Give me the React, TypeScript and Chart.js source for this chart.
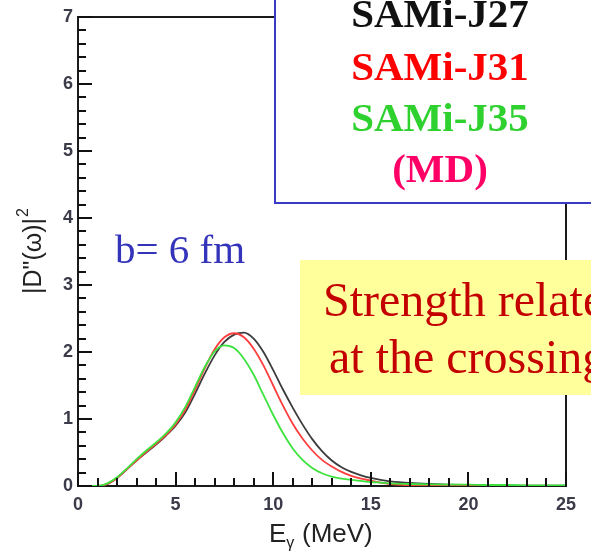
import React, { useEffect, useRef } from "react";
import { Chart, registerables } from "chart.js";

Chart.register(...registerables);

// Photon energy E_gamma (MeV)
const energies = [0, 0.5, 1, 1.5, 2, 2.5, 3, 3.5, 4, 4.5, 5, 5.5, 6, 6.5, 7, 7.5, 8, 8.5, 9, 9.5, 10, 10.5, 11, 11.5, 12, 12.5, 13, 13.5, 14, 14.5, 15, 15.5, 16, 17, 18, 19, 20, 21, 22, 23, 24, 25];

// |D''(omega)|^2 for each interaction
const samiJ27 = [0, 0, 0, 0.03, 0.12, 0.25, 0.38, 0.5, 0.62, 0.75, 0.9, 1.1, 1.38, 1.68, 1.95, 2.15, 2.26, 2.29, 2.2, 2.0, 1.73, 1.44, 1.17, 0.92, 0.7, 0.52, 0.38, 0.28, 0.21, 0.16, 0.12, 0.09, 0.07, 0.045, 0.03, 0.02, 0.015, 0.01, 0.008, 0.006, 0.005, 0.004];
const samiJ31 = [0, 0, 0, 0.03, 0.12, 0.25, 0.38, 0.51, 0.63, 0.76, 0.92, 1.14, 1.44, 1.76, 2.04, 2.22, 2.28, 2.22, 2.05, 1.8, 1.5, 1.2, 0.93, 0.71, 0.53, 0.39, 0.29, 0.21, 0.15, 0.11, 0.08, 0.05, 0.03, 0.01, 0.005, 0, 0, 0, 0, 0, 0, 0];
const samiJ35 = [0, 0, 0, 0.04, 0.13, 0.26, 0.4, 0.53, 0.65, 0.78, 0.95, 1.18, 1.48, 1.78, 2.01, 2.1, 2.06, 1.9, 1.66, 1.36, 1.06, 0.79, 0.56, 0.39, 0.27, 0.19, 0.14, 0.11, 0.09, 0.075, 0.06, 0.05, 0.04, 0.03, 0.025, 0.02, 0.02, 0.015, 0.015, 0.01, 0.01, 0.01];

const seriesNames = ["SAMi-J27", "SAMi-J31", "SAMi-J35"];
const seriesColors = ["#111111", "#ff0000", "#2ed12e"];
const lineColors = ["#3c3c3c", "#ff3d3d", "#3ee23e"];
const modeLabel = "(MD)";
const impactLabel = "b= 6 fm";
const noteLines = ["Strength relate", "at the crossing"];

const xMin = 0, xMax = 25, xStep = 5;
const yMin = 0, yMax = 7, yStep = 1;

const toPoints = (vals: number[]) => energies.map((e, i) => ({ x: e, y: vals[i] }));

const decorPlugin = {
  id: "decor",
  beforeDatasetsDraw(chart: any) {
    const { ctx, chartArea: a } = chart;
    ctx.save();
    ctx.strokeStyle = "#1a1a1a";
    ctx.lineWidth = 2;
    ctx.strokeRect(a.left, a.top, a.right - a.left, a.bottom - a.top);
    ctx.restore();
  },
  afterDraw(chart: any) {
    const { ctx, chartArea: a, scales } = chart;
    const x = scales.x, y = scales.y;
    ctx.save();
    // inward ticks
    ctx.strokeStyle = "#111111";
    ctx.lineWidth = 2;
    for (let i = 0; i <= xMax - xMin; i++) {
      const v = xMin + i;
      const px = Math.round(x.getPixelForValue(v));
      ctx.beginPath();
      ctx.moveTo(px, a.bottom);
      ctx.lineTo(px, a.bottom - (v % xStep === 0 ? 14 : 8));
      ctx.stroke();
    }
    for (let i = 0; i <= (yMax - yMin) * 5; i++) {
      const py = Math.round(y.getPixelForValue(yMin + i * 0.2));
      ctx.beginPath();
      ctx.moveTo(a.left, py);
      ctx.lineTo(a.left + (i % 5 === 0 ? 14 : 8), py);
      ctx.stroke();
    }

    // axis titles
    ctx.fillStyle = "#222";
    ctx.textBaseline = "alphabetic";
    ctx.textAlign = "left";
    ctx.font = '26px "Liberation Sans", Arial, sans-serif';
    ctx.fillText("E", 269, 542);
    const ew = ctx.measureText("E").width;
    ctx.font = '16px "Liberation Sans", Arial, sans-serif';
    ctx.fillText("γ", 269 + ew, 548);
    ctx.font = '26px "Liberation Sans", Arial, sans-serif';
    ctx.fillText("(MeV)", 302, 542);

    ctx.save();
    ctx.translate(41, 294);
    ctx.rotate(-Math.PI / 2);
    ctx.font = '25px "Liberation Sans", Arial, sans-serif';
    const t = '|D"(ω)|';
    ctx.fillText(t, 0, 0);
    const tw = ctx.measureText(t).width;
    ctx.font = '16px "Liberation Sans", Arial, sans-serif';
    ctx.fillText("2", tw + 1, -13);
    ctx.restore();

    // legend box
    ctx.fillStyle = "#ffffff";
    ctx.fillRect(275, -5, 330, 208);
    ctx.strokeStyle = "#3a3ac8";
    ctx.lineWidth = 2;
    ctx.strokeRect(275, -5, 330, 208);
    ctx.textAlign = "center";
    ctx.font = 'bold 41px "Liberation Serif", "Times New Roman", serif';
    const baselines = [27, 80, 131];
    seriesNames.forEach((n, i) => {
      ctx.fillStyle = seriesColors[i];
      ctx.fillText(n, 440, baselines[i]);
    });
    ctx.fillStyle = "#ff0066";
    ctx.fillText(modeLabel, 440, 182);

    // impact parameter label
    ctx.textAlign = "left";
    ctx.fillStyle = "#3434bb";
    ctx.font = '41px "Liberation Serif", "Times New Roman", serif';
    ctx.fillText(impactLabel, 115, 263);

    // yellow note box
    ctx.fillStyle = "#ffff9c";
    ctx.fillRect(300, 260, 300, 135);
    ctx.fillStyle = "#c40000";
    ctx.font = '48px "Liberation Serif", "Times New Roman", serif';
    ctx.fillText(noteLines[0], 323, 316);
    ctx.fillText(noteLines[1], 329, 373);
    ctx.restore();
  },
};

export default function App() {
  const ref = useRef<HTMLCanvasElement | null>(null);
  useEffect(() => {
    document.body.style.margin = "0";
    const canvas = ref.current;
    if (!canvas) return;
    const datasets = [2, 1, 0].map((k) => ({
      label: seriesNames[k],
      data: toPoints([samiJ27, samiJ31, samiJ35][k]),
      borderColor: lineColors[k],
      borderWidth: 1.8,
      pointRadius: 0,
      fill: false,
      cubicInterpolationMode: "monotone" as const,
    }));
    const tickFont = { family: '"Liberation Sans", Arial, sans-serif', size: 18, weight: "bold" as const };
    const chart = new Chart(canvas, {
      type: "line",
      data: { datasets },
      options: {
        animation: false,
        responsive: false,
        devicePixelRatio: 1,
        layout: { padding: { top: 17, right: 25, left: 0, bottom: 0 } },
        plugins: { legend: { display: false }, tooltip: { enabled: false } },
        scales: {
          x: {
            type: "linear",
            min: xMin,
            max: xMax,
            grid: { display: false, drawTicks: false },
            border: { display: false },
            ticks: { stepSize: xStep, font: tickFont, color: "#3a3a48", padding: 8, maxRotation: 0 },
            afterFit: (s: any) => { s.height = 66; },
          },
          y: {
            type: "linear",
            min: yMin,
            max: yMax,
            grid: { display: false, drawTicks: false },
            border: { display: false },
            ticks: { stepSize: yStep, font: tickFont, color: "#3a3a48", padding: 5 },
            afterFit: (s: any) => { s.width = 78; },
          },
        },
      },
      plugins: [decorPlugin],
    });
    return () => chart.destroy();
  }, []);
  return (
    <div style={{ position: "fixed", left: 0, top: 0, width: 591, height: 552, background: "#fff" }}>
      <canvas ref={ref} width={591} height={552} style={{ width: 591, height: 552, display: "block" }} />
    </div>
  );
}
